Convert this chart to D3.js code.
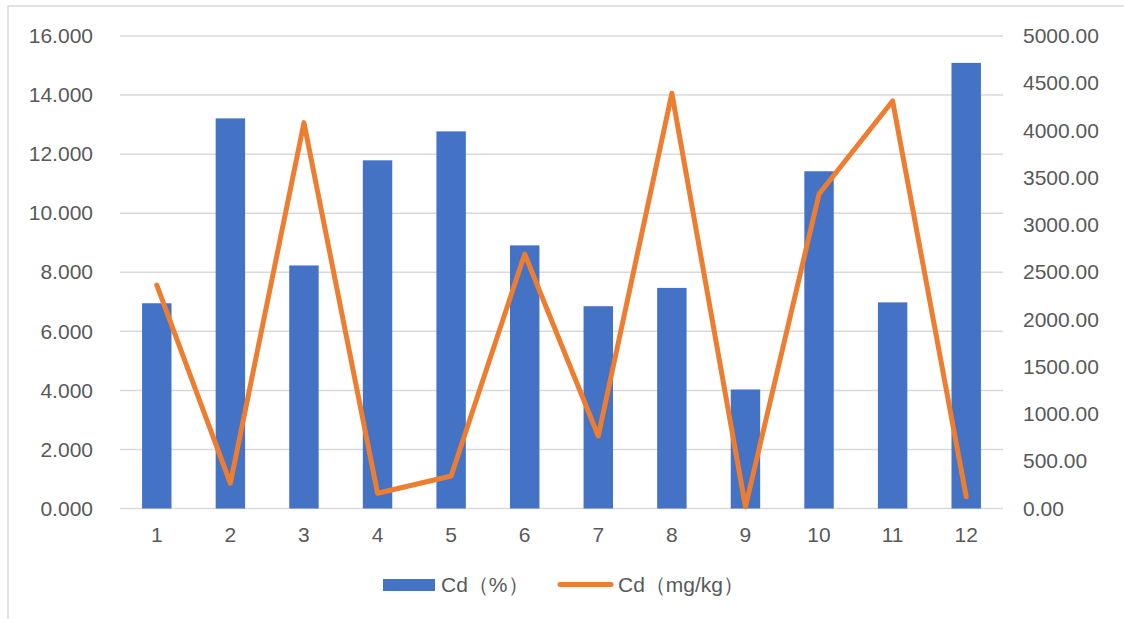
<!DOCTYPE html>
<html>
<head>
<meta charset="utf-8">
<script src="https://cdn.jsdelivr.net/npm/d3@7"></script>
<style>
  html, body { margin: 0; padding: 0; background: #fff; }
  svg { display: block; }
  text { font-family: "Liberation Sans", Arial, sans-serif; fill: #595959; }
</style>
</head>
<body>
<svg id="chart" width="1124" height="619"></svg>
<script>
const categories = ["1","2","3","4","5","6","7","8","9","10","11","12"];
const cdPercent = [6.95, 13.21, 8.23, 11.79, 12.77, 8.91, 6.85, 7.47, 4.03, 11.42, 6.98, 15.09];
const cdMgKg = [2365, 267, 4083, 161, 344, 2693, 767, 4394, 19, 3328, 4312, 125];
const leftTicks = [0, 2, 4, 6, 8, 10, 12, 14, 16];
const rightTicks = [0, 500, 1000, 1500, 2000, 2500, 3000, 3500, 4000, 4500, 5000];
const seriesNames = ["Cd（%）", "Cd（mg/kg）"];

const svg = d3.select("#chart");
const W = 1124, H = 619;
const plot = { left: 120, right: 1003, top: 36, bottom: 508.5 };

// chart border (cropped on right/bottom)
svg.append("rect")
  .attr("x", 8).attr("y", 6).attr("width", W + 10).attr("height", H + 10)
  .attr("fill", "none").attr("stroke", "#d9d9d9").attr("stroke-width", 1.5);

const x = d3.scaleBand().domain(categories).range([plot.left, plot.right]).paddingInner(0.6).paddingOuter(0.3);
const xc = d3.scaleBand().domain(categories).range([plot.left, plot.right]);
const yL = d3.scaleLinear().domain([0, 16]).range([plot.bottom, plot.top]);
const yR = d3.scaleLinear().domain([0, 5000]).range([plot.bottom, plot.top]);

// gridlines
svg.append("g").selectAll("line").data(leftTicks).join("line")
  .attr("x1", plot.left).attr("x2", plot.right)
  .attr("y1", d => yL(d)).attr("y2", d => yL(d))
  .attr("stroke", "#d9d9d9").attr("stroke-width", 1.5);

// left axis
const leftAxis = d3.axisLeft(yL).tickValues(leftTicks).tickFormat(d3.format(".3f")).tickSize(0).tickPadding(27);
const gL = svg.append("g").attr("transform", `translate(${plot.left},0)`).call(leftAxis);
gL.select(".domain").remove();
gL.selectAll("text").style("font-size", "21px").attr("fill", "#595959");

// right axis
const rightAxis = d3.axisRight(yR).tickValues(rightTicks).tickFormat(d3.format(".2f")).tickSize(0).tickPadding(20);
const gR = svg.append("g").attr("transform", `translate(${plot.right},0)`).call(rightAxis);
gR.select(".domain").remove();
gR.selectAll("text").style("font-size", "21px").attr("fill", "#595959");

// bars
svg.append("g").selectAll("rect").data(categories).join("rect")
  .attr("x", d => x(d))
  .attr("width", x.bandwidth())
  .attr("y", (d, i) => yL(cdPercent[i]))
  .attr("height", (d, i) => yL(0) - yL(cdPercent[i]))
  .attr("fill", "#4472C4");

// bottom axis
const bottomAxis = d3.axisBottom(xc).tickSize(0).tickPadding(19);
const gB = svg.append("g").attr("transform", `translate(0,${plot.bottom})`).call(bottomAxis);
gB.select(".domain").remove();
gB.selectAll("text").style("font-size", "21px").attr("fill", "#595959");

// line
const line = d3.line()
  .x((d, i) => xc(categories[i]) + xc.bandwidth() / 2)
  .y(d => yR(d));
svg.append("path").datum(cdMgKg)
  .attr("d", line)
  .attr("fill", "none").attr("stroke", "#ED7D31").attr("stroke-width", 5)
  .attr("stroke-linejoin", "round").attr("stroke-linecap", "round");

// legend
const lg = svg.append("g");
lg.append("rect").attr("x", 383).attr("y", 579).attr("width", 52).attr("height", 12).attr("fill", "#4472C4");
lg.append("text").attr("x", 441).attr("y", 592).style("font-size", "21px").text(seriesNames[0]);
lg.append("line").attr("x1", 560).attr("x2", 611).attr("y1", 584.5).attr("y2", 584.5)
  .attr("stroke", "#ED7D31").attr("stroke-width", 5).attr("stroke-linecap", "round");
lg.append("text").attr("x", 618).attr("y", 592).style("font-size", "21px").text(seriesNames[1]);
</script>
</body>
</html>
